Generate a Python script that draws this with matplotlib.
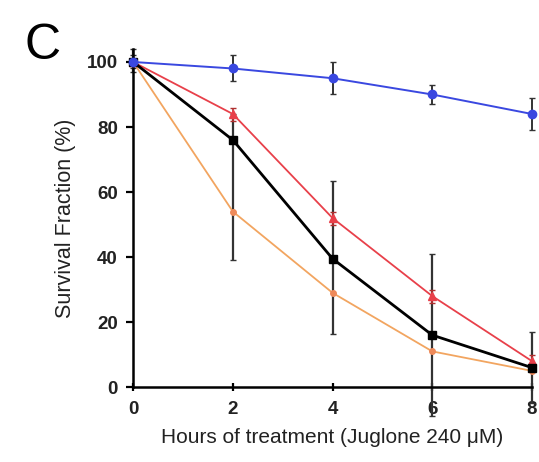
import matplotlib
matplotlib.use("Agg")
import matplotlib.pyplot as plt

plt.rcParams['font.family'] = ['Liberation Sans', 'DejaVu Sans']

hours = [0, 2, 4, 6, 8]
blue_vals = [100, 98, 95, 90, 84]
blue_err = [2, 4, 5, 3, 5]
black_vals = [100, 76, 39.5, 16, 6]
black_err_low = [3, 37, 23, 25, 11]
black_err_high = [4, 8, 24, 25, 11]
red_vals = [100, 84, 52, 28, 8]
red_err = [1, 2, 2, 2, 2]
orange_vals = [100, 54, 29, 11, 5]

fig = plt.figure(figsize=(5.39, 4.62), dpi=100)
ax = fig.add_axes([0.247, 0.162, 0.740, 0.732])

ax.errorbar(hours, black_vals, yerr=[black_err_low, black_err_high], fmt='none',
            ecolor='#333333', elinewidth=1.6, capsize=2, clip_on=False, zorder=2)
ax.errorbar(hours, blue_vals, yerr=blue_err, fmt='none', ecolor='#333333',
            elinewidth=1.4, capsize=2, clip_on=False, zorder=2)
ax.errorbar(hours, red_vals, yerr=red_err, fmt='none', ecolor='#b03030',
            elinewidth=1.2, capsize=2, clip_on=False, zorder=2)

ax.plot(hours, orange_vals, color='#f2a560', lw=1.3, marker='o', ms=4,
        mfc='#ee8a5a', mec='#ee8a5a', clip_on=False, zorder=3)
ax.plot(hours, red_vals, color='#e8404a', lw=1.3, marker='^', ms=6,
        mfc='#e8404a', mec='#e8404a', clip_on=False, zorder=4)
ax.plot(hours, black_vals, color='black', lw=2.0, marker='s', ms=6,
        clip_on=False, zorder=5)
ax.plot(hours, blue_vals, color='#3a48e0', lw=1.4, marker='o', ms=6,
        mfc='#3a48e0', mec='#3a48e0', clip_on=False, zorder=6)

ax.set_xlim(0, 8)
ax.set_ylim(0, 104)
ax.set_xticks(hours)
ax.set_yticks([0, 20, 40, 60, 80, 100])
for s in ['top', 'right']:
    ax.spines[s].set_visible(False)
for s in ['left', 'bottom']:
    ax.spines[s].set_linewidth(1.8)
ax.tick_params(axis='both', direction='inout', length=6, width=1.6, labelsize=13.5)
ax.tick_params(axis='y', direction='out', length=5, pad=6)
ax.tick_params(axis='x', pad=7)
for lab in ax.get_xticklabels() + ax.get_yticklabels():
    lab.set_fontweight('bold')
    lab.set_color('#222222')

ax.set_ylabel('Survival Fraction (%)', fontsize=15.5, labelpad=8, color='#222222')
ax.set_xlabel('Hours of treatment (Juglone 240 \u03bcM)', fontsize=15, labelpad=7,
              color='#222222')

fig.text(0.045, 0.9, 'C', fontsize=36, va='center', ha='left')

fig.savefig('out.png', dpi=100)
